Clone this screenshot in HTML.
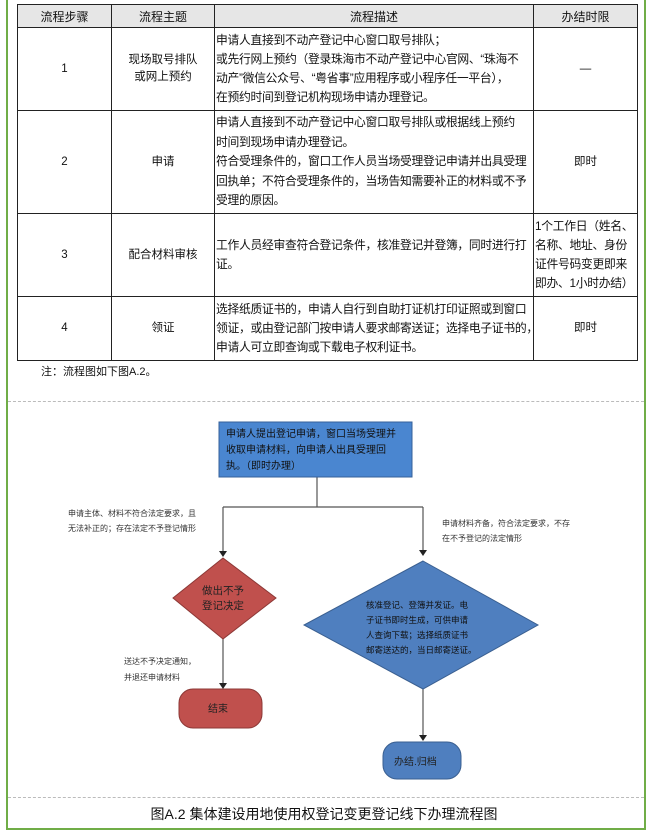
<!DOCTYPE html>
<html><head><meta charset="utf-8"><style>
*{margin:0;padding:0;box-sizing:border-box}
body{width:648px;height:834px;background:#fff;position:relative;overflow:hidden;font-family:"Liberation Sans","Noto Sans CJK SC",sans-serif;color:#111}
.frame{position:absolute;left:6px;top:0;width:640px;height:830px;border:2px solid #70ad47;border-top:none}
table{position:absolute;left:17px;top:4px;width:620px;border-collapse:collapse;font-size:11.5px;table-layout:fixed}
td,th{border:1px solid #222;font-weight:normal;vertical-align:middle;overflow:hidden}
th{background:#e6e6e6;height:23px;font-size:12px}
td.c{text-align:center;line-height:17px}
td.d{padding:0 1px;font-size:11.8px;white-space:nowrap;letter-spacing:-0.3px}
.note{position:absolute;left:41px;top:363px;font-size:11px}
.dash{position:absolute;left:8px;width:636px;border-top:1px dashed #bbb}
.cap{position:absolute;left:0;width:648px;top:804px;text-align:center;font-size:14px}
svg text{font-family:"Liberation Sans","Noto Sans CJK SC",sans-serif}
</style></head><body>
<div class="frame"></div>
<table>
<colgroup><col style="width:94px"><col style="width:103px"><col style="width:319px"><col style="width:104px"></colgroup>
<tr><th>流程步骤</th><th>流程主题</th><th>流程描述</th><th>办结时限</th></tr>
<tr style="height:83px"><td class="c">1</td><td class="c">现场取号排队<br>或网上预约</td><td class="d" style="line-height:19px">申请人直接到不动产登记中心窗口取号排队；<br>或先行网上预约（登录珠海市不动产登记中心官网、“珠海不<br>动产”微信公众号、“粤省事”应用程序或小程序任一平台），<br>在预约时间到登记机构现场申请办理登记。</td><td class="c">—</td></tr>
<tr style="height:103px"><td class="c">2</td><td class="c">申请</td><td class="d" style="line-height:19.5px">申请人直接到不动产登记中心窗口取号排队或根据线上预约<br>时间到现场申请办理登记。<br>符合受理条件的，窗口工作人员当场受理登记申请并出具受理<br>回执单；不符合受理条件的，当场告知需要补正的材料或不予<br>受理的原因。</td><td class="c">即时</td></tr>
<tr style="height:83px"><td class="c">3</td><td class="c">配合材料审核</td><td class="d" style="line-height:19px">工作人员经审查符合登记条件，核准登记并登簿，同时进行打<br>证。</td><td class="d" style="line-height:19px">1个工作日（姓名、<br>名称、地址、身份<br>证件号码变更即来<br>即办、1小时办结）</td></tr>
<tr style="height:64px"><td class="c">4</td><td class="c">领证</td><td class="d" style="line-height:19px">选择纸质证书的，申请人自行到自助打证机打印证照或到窗口<br>领证，或由登记部门按申请人要求邮寄送证；选择电子证书的，<br>申请人可立即查询或下载电子权利证书。</td><td class="c">即时</td></tr>
</table>
<div class="note">注：流程图如下图A.2。</div>
<div class="dash" style="top:401px"></div>
<div class="dash" style="top:797px"></div>
<svg style="position:absolute;left:0;top:0" width="648" height="834">
<g stroke="#555" stroke-width="1.2" fill="none">
<path d="M317,477 V507 M223,507 H423 M223,507 V552 M423,507 V551 M223,639 V684 M423,689 V736"/>
</g>
<g fill="#222"><path d="M219,551 h8 l-4,6z"/><path d="M419,550 h8 l-4,6z"/><path d="M219,683 h8 l-4,6z"/><path d="M419,735 h8 l-4,6z"/></g>
<rect x="219" y="422" width="193" height="55" fill="#4a86d0" stroke="#35609a"/>
<text font-size="10" fill="#111"><tspan x="226" y="437">申请人提出登记申请，窗口当场受理并</tspan><tspan x="226" y="453">收取申请材料，向申请人出具受理回</tspan><tspan x="226" y="469">执。（即时办理）</tspan></text>
<polygon points="223,558 276,598 223,639 173,598" fill="#c0504d" stroke="#8c3836"/>
<text font-size="10.5" fill="#222"><tspan x="202" y="594">做出不予</tspan><tspan x="202" y="609">登记决定</tspan></text>
<polygon points="423,561 538,625 423,689 304,625" fill="#4f7fbf" stroke="#3a5f90"/>
<text font-size="8.5" fill="#111"><tspan x="366" y="608">核准登记、登簿并发证。电</tspan><tspan x="366" y="623">子证书即时生成，可供申请</tspan><tspan x="366" y="638">人查询下载；选择纸质证书</tspan><tspan x="366" y="653">邮寄送达的，当日邮寄送证。</tspan></text>
<rect x="179" y="689" width="83" height="39" rx="14" fill="#c0504d" stroke="#8c3836"/>
<text x="208" y="712" font-size="10" fill="#222">结束</text>
<rect x="383" y="742" width="78" height="37" rx="14" fill="#4f7fbf" stroke="#3a5f90"/>
<text x="394" y="765" font-size="10" fill="#222">办结.归档</text>
<text font-size="8" fill="#333"><tspan x="68" y="516">申请主体、材料不符合法定要求，且</tspan><tspan x="68" y="531">无法补正的；存在法定不予登记情形</tspan></text>
<text font-size="8" fill="#333"><tspan x="442" y="526">申请材料齐备，符合法定要求，不存</tspan><tspan x="442" y="541">在不予登记的法定情形</tspan></text>
<text font-size="8" fill="#333"><tspan x="124" y="664">送达不予决定通知，</tspan><tspan x="124" y="680">并退还申请材料</tspan></text>
</svg>
<div class="cap">图A.2 集体建设用地使用权登记变更登记线下办理流程图</div>
</body></html>
